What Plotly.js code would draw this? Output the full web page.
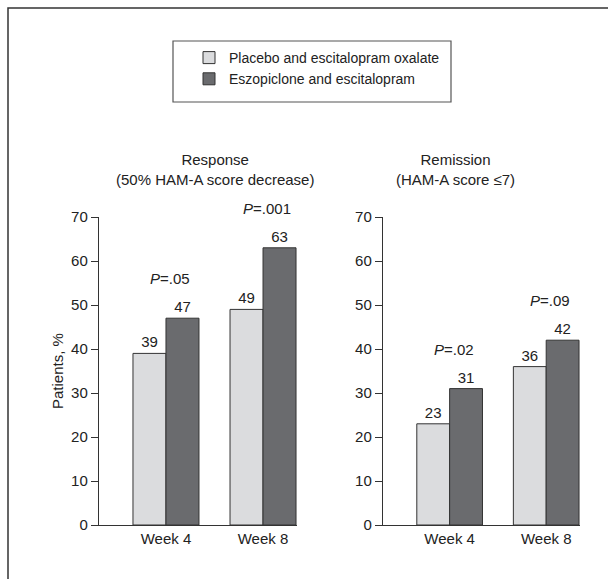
<!DOCTYPE html>
<html>
<head>
<meta charset="utf-8">
<script src="https://cdn.plot.ly/plotly-3.0.1.min.js"></script>
<style>html,body{margin:0;padding:0;background:#fff;}#chart{width:608px;height:579px;}</style>
</head>
<body>
<div id="chart"></div>
<script>
const weeks = ["Week 4", "Week 8"];
const seriesNames = ["Placebo and escitalopram oxalate", "Eszopiclone and escitalopram"];
const responsePlacebo = [39, 49];
const responseEszo = [47, 63];
const remissionPlacebo = [23, 36];
const remissionEszo = [31, 42];
const responsePvals = ["<i>P</i>=.05", "<i>P</i>=.001"];
const remissionPvals = ["<i>P</i>=.02", "<i>P</i>=.09"];
const responsePvalY = [56, 72];
const remissionPvalY = [40, 51];
const yTicks = [0, 10, 20, 30, 40, 50, 60, 70];
const yMax = 70;

const FONT = "Liberation Sans Narrow, Arial Narrow, Liberation Sans, Arial, sans-serif";
const FS = 14;
const colPlacebo = "#dbdcde";
const colEszo = "#6a6b6e";
const edge = "#333333";

function bar(y, name, color, xa, ya, show) {
  return {
    type: "bar", x: weeks, y: y, name: name, xaxis: xa, yaxis: ya,
    marker: {color: color, line: {color: edge, width: 1}},
    text: y.map(String), textposition: "outside", cliponaxis: false,
    textfont: {family: FONT, size: FS + 1, color: "#222"},
    showlegend: show, hoverinfo: "skip"
  };
}

const data = [
  bar(responsePlacebo, seriesNames[0], colPlacebo, "x", "y", true),
  bar(responseEszo, seriesNames[1], colEszo, "x", "y", true),
  bar(remissionPlacebo, seriesNames[0], colPlacebo, "x2", "y2", false),
  bar(remissionEszo, seriesNames[1], colEszo, "x2", "y2", false)
];

const yDomain = [54/579, 362/579];
const yax = {
  domain: yDomain, range: [0, yMax], tickvals: yTicks, ticks: "outside", ticklen: 7,
  tickcolor: edge, showline: true, linecolor: edge, linewidth: 1.2, showgrid: false,
  zeroline: false, tickfont: {family: FONT, size: FS + 1, color: "#222"}
};
const xax = {
  type: "category", range: [-0.69, 1.35], showline: true, linecolor: edge, linewidth: 1.2,
  ticks: "", showgrid: false, tickfont: {family: FONT, size: FS + 1, color: "#222"}
};

const annFont = {family: FONT, size: FS + 1, color: "#222"};
function paperY(v) { return yDomain[0] + v / yMax * (yDomain[1] - yDomain[0]); }
const annotations = [
  {xref: "paper", yref: "paper", x: 215/608, y: (579-170)/579, xanchor: "center", yanchor: "middle", text: "Response<br>(50% HAM-A score decrease)", showarrow: false, font: annFont, align: "center"},
  {xref: "paper", yref: "paper", x: 455/608, y: (579-170)/579, xanchor: "center", yanchor: "middle", text: "Remission<br>(HAM-A score ≤7)", showarrow: false, font: annFont, align: "center"},
  {xref: "paper", yref: "paper", x: 57/608, y: paperY(35), xanchor: "center", yanchor: "middle", textangle: -90, text: "Patients, %", showarrow: false, font: annFont}
];
weeks.forEach((w, i) => {
  annotations.push({xref: "x", yref: "paper", x: i, y: paperY(responsePvalY[i]), yanchor: "middle", text: responsePvals[i], showarrow: false, font: annFont, xshift: 4});
  annotations.push({xref: "x2", yref: "paper", x: i, y: paperY(remissionPvalY[i]), yanchor: "middle", text: remissionPvals[i], showarrow: false, font: annFont, xshift: 4});
});

const layout = {
  width: 608, height: 579,
  margin: {l: 0, r: 0, t: 0, b: 0},
  paper_bgcolor: "#fff", plot_bgcolor: "rgba(0,0,0,0)",
  font: {family: FONT, size: FS, color: "#222"},
  barmode: "group", bargap: 0.32, bargroupgap: 0,
  xaxis: Object.assign({}, xax, {domain: [99/608, 297/608], anchor: "y"}),
  xaxis2: Object.assign({}, xax, {domain: [383/608, 580/608], anchor: "y2"}),
  yaxis: Object.assign({}, yax, {anchor: "x"}),
  yaxis2: Object.assign({}, yax, {anchor: "x2"}),
  showlegend: true,
  legend: {
    x: 189/608, y: (579-42)/579, xanchor: "left", yanchor: "top",
    bgcolor: "rgba(0,0,0,0)", borderwidth: 0, traceorder: "normal",
    font: {family: FONT, size: FS, color: "#222"}, tracegroupgap: 0
  },
  shapes: [
    {type: "rect", xref: "paper", yref: "paper", x0: 8/608, x1: 1.05, y0: -0.05, y1: (579-8)/579, line: {color: edge, width: 1.5}},
    {type: "rect", xref: "paper", yref: "paper", x0: 173/608, x1: 451/608, y0: (579-102)/579, y1: (579-41)/579, line: {color: "#555", width: 1.2}}
  ],
  annotations: annotations
};

Plotly.newPlot("chart", data, layout, {staticPlot: true, displayModeBar: false});
</script>
</body>
</html>
